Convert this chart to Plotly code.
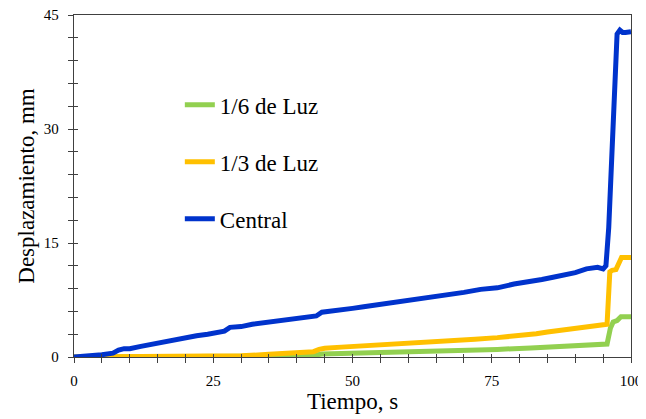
import plotly.graph_objects as go

# ---- data ----
t_central = [0, 3, 5, 7, 8, 9, 10, 12, 14, 16, 18, 20, 22, 24, 26, 27, 28, 30, 32, 34, 36, 38, 40, 42,
             43.5, 44.5, 46, 48, 50, 52, 55, 58, 61, 64, 67, 70, 73, 76, 79, 82, 84, 86, 88, 90, 92,
             93, 94, 95, 95.5, 96, 96.5, 97, 97.5, 98, 98.5, 99, 100]
v_central = [0, 0.1, 0.3, 0.5, 0.9, 1.1, 1.1, 1.4, 1.7, 2.0, 2.3, 2.5, 2.8, 3.0, 3.2, 3.4, 3.9, 4.0,
             4.3, 4.5, 4.7, 4.9, 5.1, 5.3, 5.4, 5.9, 6.0, 6.2, 6.4, 6.6, 6.9, 7.2, 7.5, 7.9, 8.2, 8.5,
             8.9, 9.1, 9.6, 9.9, 10.2, 10.5, 10.8, 11.1, 11.6, 11.7, 11.8, 11.6, 12.0, 17, 25, 34,
             42.5, 43.0, 42.7, 42.7, 42.8]

t_tercio = [0, 25, 30, 35, 40, 43, 44, 45, 48, 52, 56, 60, 64, 68, 72, 76, 80, 83, 85, 88, 91, 94,
            95.7, 96.2, 96.6, 97.3, 97.8, 98.3, 100]
v_tercio = [0, 0, 0.15, 0.35, 0.55, 0.7, 1.0, 1.15, 1.3, 1.45, 1.6, 1.8, 2.0, 2.15, 2.35, 2.55, 2.8,
            3.05, 3.3, 3.6, 3.9, 4.15, 4.3, 11.2, 11.4, 11.5, 12.3, 13.1, 13.1]

t_sexto = [0, 33, 38, 43, 44.5, 48, 55, 62, 70, 76, 82, 86, 90, 95.7, 96.3, 96.8, 97.5, 98.2, 100]
v_sexto = [0, 0, 0.1, 0.2, 0.4, 0.45, 0.55, 0.7, 0.85, 1.0, 1.2, 1.35, 1.5, 1.7, 3.8, 4.6, 4.8,
           5.3, 5.3]

series_names = ["1/6 de Luz", "1/3 de Luz", "Central"]
series_colors = ["#92D050", "#FFC000", "#0033CC"]

x_tickvals = [0, 25, 50, 75, 100]
y_tickvals = [0, 15, 30, 45]

FONT = "Liberation Serif"
AX = "#404040"

fig = go.Figure()
for name, tt, vv, col in zip(series_names, [t_sexto, t_tercio, t_central],
                             [v_sexto, v_tercio, v_central], series_colors):
    fig.add_trace(go.Scatter(x=tt, y=vv, mode="lines", name=name, legendgroup=name,
                             line=dict(color=col, width=5)))

# page body has an 8px margin, so the figure is 638x411 placed at (8, 8)
fig.update_layout(
    width=638, height=411,
    margin=dict(l=66, r=15, t=7, b=62, autoexpand=False),
    paper_bgcolor="white", plot_bgcolor="white",
    font=dict(family=FONT, color="black"),
    showlegend=True,
    legend=dict(x=0.19, y=0.80, xanchor="left", yanchor="top",
                font=dict(family=FONT, size=23, color="black"),
                bgcolor="rgba(0,0,0,0)", tracegroupgap=24, itemwidth=30),
    xaxis=dict(range=[0, 100], tickvals=x_tickvals, showgrid=False, zeroline=False,
               automargin=False, ticklabeloverflow="allow",
               showline=True, linecolor=AX, linewidth=1.3, mirror=True,
               ticks="outside", ticklen=5, tickcolor=AX, tickwidth=1,
               minor=dict(dtick=5, ticks="outside", ticklen=5, tickcolor=AX),
               tickfont=dict(size=15, family=FONT), ticklabelstandoff=5,
               title=dict(text="Tiempo, s", font=dict(size=23, family=FONT), standoff=0)),
    yaxis=dict(range=[0, 45], tickvals=y_tickvals, showgrid=False, zeroline=False,
               automargin=False, ticklabeloverflow="allow",
               showline=True, linecolor=AX, linewidth=1.3, mirror=True,
               ticks="outside", ticklen=5, tickcolor=AX, tickwidth=1,
               minor=dict(dtick=3, ticks="outside", ticklen=5, tickcolor=AX),
               tickfont=dict(size=15, family=FONT), ticklabelstandoff=6,
               title=dict(text="Desplazamiento, mm", font=dict(size=23, family=FONT), standoff=2)),
    xaxis2=dict(range=[0, 100], overlaying="x", anchor="y", side="bottom", showgrid=False,
                automargin=False,
                zeroline=False, showline=False, showticklabels=False,
                tickvals=x_tickvals, ticks="inside", ticklen=3, tickcolor=AX,
                minor=dict(dtick=5, ticks="inside", ticklen=3, tickcolor=AX)),
    yaxis2=dict(range=[0, 45], overlaying="y", anchor="x", side="left", showgrid=False,
                automargin=False,
                zeroline=False, showline=False, showticklabels=False,
                tickvals=y_tickvals, ticks="inside", ticklen=4, tickcolor=AX,
                minor=dict(dtick=3, ticks="inside", ticklen=4, tickcolor=AX)),
)
# invisible helper trace so the overlay axes are drawn
fig.add_trace(go.Scatter(x=[None], y=[None], xaxis="x2", yaxis="y2", showlegend=False,
                         hoverinfo="skip"))

fig.write_html("out.html")
